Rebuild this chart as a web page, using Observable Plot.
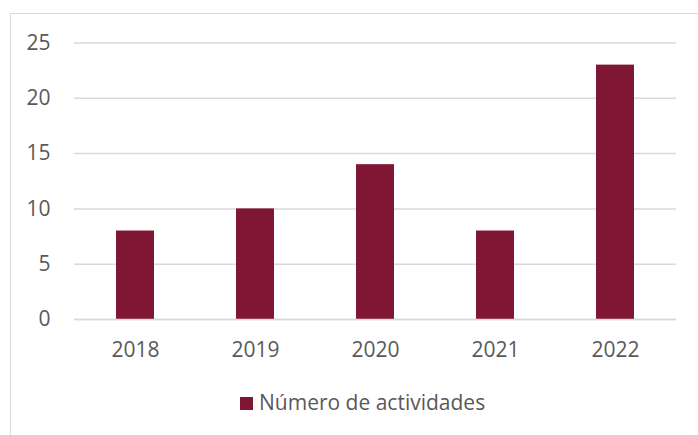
<!DOCTYPE html>
<html>
<head>
<meta charset="utf-8">
<script src="https://cdn.jsdelivr.net/npm/d3@7"></script>
<script src="https://cdn.jsdelivr.net/npm/@observablehq/plot@0.6"></script>
<style>
  html, body { margin: 0; padding: 0; background: #fff; }
  #wrap { position: relative; width: 698px; height: 435px; overflow: hidden; font-family: "Open Sans", sans-serif; }
  #frame { position: absolute; left: 9.5px; top: 13px; width: 700px; height: 440px; border-left: 1.5px solid #d9d9d9; border-top: 1.5px solid #d9d9d9; box-sizing: border-box; }
  #chart { position: absolute; left: 0; top: 0; }
  #legend { position: absolute; left: 240px; top: 388px; display: flex; align-items: center; color: #595959; font-size: 21px; }
  #legend .sw { width: 13px; height: 13px; background: #7f1734; margin-right: 6px; margin-top: 2px; }
</style>
</head>
<body>
<div id="wrap">
  <div id="frame"></div>
  <div id="chart"></div>
  <div id="legend"><div class="sw"></div><span>Número de actividades</span></div>
</div>
<script>
const years = ["2018", "2019", "2020", "2021", "2022"];
const actividades = [8, 10, 14, 8, 23];
const yTicks = [0, 5, 10, 15, 20, 25];
const seriesName = "Número de actividades";

const data = years.map((y, i) => ({ year: y, value: actividades[i] }));

const chart = Plot.plot({
  width: 698,
  height: 380,
  marginLeft: 74,
  marginRight: 22,
  marginTop: 42.5,
  marginBottom: 61,
  style: { fontFamily: "'Open Sans', sans-serif", fontSize: "21px", color: "#595959", background: "transparent" },
  x: { domain: years, paddingInner: 0.684, paddingOuter: 0.342, label: null, tickSize: 0, tickPadding: 23 },
  y: { domain: [0, 25], ticks: yTicks, label: null, tickSize: 0, tickPadding: 24 },
  marks: [
    Plot.gridY(yTicks, { stroke: "#d9d9d9", strokeOpacity: 1, strokeWidth: 1.5 }),
    Plot.barY(data, { x: "year", y: "value", fill: "#7f1734", title: d => `${seriesName}: ${d.value}` }),
    Plot.ruleY([0], { stroke: "#d9d9d9", strokeWidth: 1.5 })
  ]
});
document.getElementById("chart").appendChild(chart);
</script>
</body>
</html>
